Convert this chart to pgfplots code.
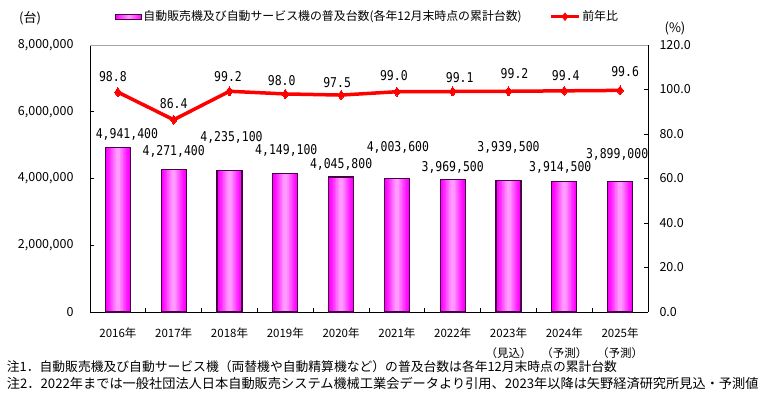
\documentclass[border=0pt]{standalone}
\usepackage{pgfplots}
\pgfplotsset{compat=1.18}
\usepackage{pgfplotstable}
\usepackage{fontspec}
\setmainfont{Noto Sans CJK JP}
\newfontfamily\monof[FakeStretch=0.85]{DejaVu Sans Mono}
\definecolor{barm}{RGB}{255,0,255}
\definecolor{barc}{RGB}{255,155,255}
\definecolor{bardraw}{RGB}{70,0,70}
\definecolor{linered}{RGB}{255,0,0}

\pgfplotstableread{
x y lab dy dx
0 4941400 4,941,400 13.1 9
1 4271400 4,271,400 18.1 0
2 4235100 4,235,100 33.3 2
3 4149100 4,149,100 22.8 1
4 4045800 4,045,800 12.3 0
5 4003600 4,003,600 31.4 1
6 3969500 3,969,500 12.2 0
7 3939500 3,939,500 33.2 0
8 3914500 3,914,500 14.0 -4
9 3899000 3,899,000 27.9 -3
}\bardata

\pgfplotstableread{
x y lab dy dx
0 98.8 98.8 15.5 -5
1 86.4 86.4 16.3 0
2 99.2 99.2 15.0 -1.5
3 98.0 98.0 13.3 -3.6
4 97.5 97.5 12.3 -4
5 99.0 99.0 16.3 -3
6 99.1 99.1 13.5 7
7 99.2 99.2 17.7 6
8 99.4 99.4 15.3 1.5
9 99.6 99.6 19.0 5
}\linedata

\begin{document}
\begin{tikzpicture}
\begin{axis}[
  at={(90pt,84pt)}, anchor=south west,
  scale only axis, width=558pt, height=267pt,
  xmin=-0.5, xmax=9.5, ymin=0, ymax=8000000,
  axis x line*=bottom, axis y line*=left,
  axis line style={black, line width=0.8pt, -},
  tick style={black, line width=0.8pt},
  tick align=inside, major tick length=4pt, minor tick length=4pt,
  xtick={0,...,9},
  xticklabels={2016年,2017年,2018年,2019年,2020年,2021年,2022年,{2023年\\（見込）},{2024年\\（予測）},{2025年\\（予測）}},
  xticklabel style={align=center, font=\fontsize{11.5}{20}\selectfont, anchor=north, yshift=-12pt},
  major x tick style={draw=none},
  minor xtick={0.5,1.5,...,8.5},
  ytick={0,2000000,4000000,6000000,8000000},
  scaled y ticks=false,
  yticklabel style={/pgf/number format/fixed, /pgf/number format/1000 sep={,}, /pgf/number format/assume math mode=true, font=\fontsize{12.5}{14}\selectfont, xshift=-13pt},
  clip=false,
  legend columns=2,
  legend style={at={(0.0448,1.106)}, anchor=west, draw=none, fill=none, inner sep=0pt,
    font=\fontsize{11.9}{13}\selectfont, nodes={inner xsep=1.5pt, inner ysep=0pt},
    /tikz/every even column/.append style={column sep=26pt}},
  legend cell align=left,
  every axis plot/.append style={ybar, bar shift=0pt, forget plot},
]
% stepped horizontal gradient: outer magenta to lighter pink centre
\addplot[draw=none, fill=barm, bar width=25pt] table[x=x, y=y] {\bardata};
\addplot[draw=none, fill=barc!8!barm, bar width=22pt] table[x=x, y=y] {\bardata};
\addplot[draw=none, fill=barc!20!barm, bar width=19pt] table[x=x, y=y] {\bardata};
\addplot[draw=none, fill=barc!35!barm, bar width=16pt] table[x=x, y=y] {\bardata};
\addplot[draw=none, fill=barc!52!barm, bar width=13pt] table[x=x, y=y] {\bardata};
\addplot[draw=none, fill=barc!68!barm, bar width=10pt] table[x=x, y=y] {\bardata};
\addplot[draw=none, fill=barc!84!barm, bar width=7pt] table[x=x, y=y] {\bardata};
\addplot[draw=none, fill=barc, bar width=4pt] table[x=x, y=y] {\bardata};
\addplot[bar width=25pt, draw=bardraw, line width=1.1pt, fill=none,
  point meta=explicit symbolic,
  visualization depends on={\thisrow{dy} \as \dy},
  visualization depends on={\thisrow{dx} \as \dx},
  nodes near coords={\monof\pgfplotspointmeta},
  every node near coord/.append style={anchor=center, yshift=\dy pt, xshift=\dx pt, font=\fontsize{13.5}{14}\selectfont, text=black, inner sep=0pt},
] table[x=x, y=y, meta=lab] {\bardata};
\addlegendimage{legend image code/.code={\draw[draw=bardraw, line width=0.8pt, left color=barm, right color=barm, middle color=barc] (0pt,-2.6pt) rectangle (26pt,2.6pt);}}
\addlegendentry{自動販売機及び自動サービス機の普及台数(各年12月末時点の累計台数)}
\addlegendimage{legend image code/.code={\draw[linered, line width=3.5pt] (0pt,0pt) -- (28pt,0pt); \fill[linered] (14pt,4pt) -- (17pt,0pt) -- (14pt,-4pt) -- (11pt,0pt) -- cycle;}}
\addlegendentry{前年比}
\end{axis}
\begin{axis}[
  at={(90pt,84pt)}, anchor=south west,
  scale only axis, width=558pt, height=267pt,
  xmin=-0.5, xmax=9.5, ymin=0, ymax=120,
  axis x line=none, axis y line*=right,
  axis line style={black, line width=0.8pt, -},
  tick style={black, line width=0.8pt},
  tick align=inside, major tick length=4pt,
  ytick={0,20,...,120},
  yticklabel style={/pgf/number format/fixed, /pgf/number format/fixed zerofill, /pgf/number format/precision=1, /pgf/number format/assume math mode=true, font=\fontsize{12.5}{14}\selectfont, xshift=8pt},
  clip=false,
]
\draw[gray!70, line width=0.8pt] (rel axis cs:0,1) -- (rel axis cs:1,1);
\addplot[linered, line width=3.5pt, mark=diamond*, mark size=4.5pt,
  mark options={fill=linered, draw=linered, line width=0pt, solid},
  point meta=explicit symbolic,
  visualization depends on={\thisrow{dy} \as \dy},
  visualization depends on={\thisrow{dx} \as \dx},
  nodes near coords={\monof\pgfplotspointmeta},
  every node near coord/.append style={anchor=center, yshift=\dy pt, xshift=\dx pt, font=\fontsize{13.5}{14}\selectfont, text=black, inner sep=0pt},
] table[x=x, y=y, meta=lab] {\linedata};
\end{axis}
\node[font=\fontsize{13}{14}\selectfont] at (30pt,378pt) {(台)};
\node[font=\fontsize{13}{14}\selectfont] at (675pt,368pt) {(\%)};
\node[anchor=west, inner sep=0pt, font=\fontsize{12.8}{15}\selectfont] at (6.7pt,29.3pt) {注1．自動販売機及び自動サービス機（両替機や自動精算機など）の普及台数は各年12月末時点の累計台数};
\node[anchor=west, inner sep=0pt, font=\fontsize{13.2}{15}\selectfont] at (6.7pt,13pt) {注2．2022年までは一般社団法人日本自動販売システム機械工業会データより引用、2023年以降は矢野経済研究所見込・予測値};
\pgfresetboundingbox
\path (0pt,0pt) rectangle (768pt,396pt);
\end{tikzpicture}
\end{document}
